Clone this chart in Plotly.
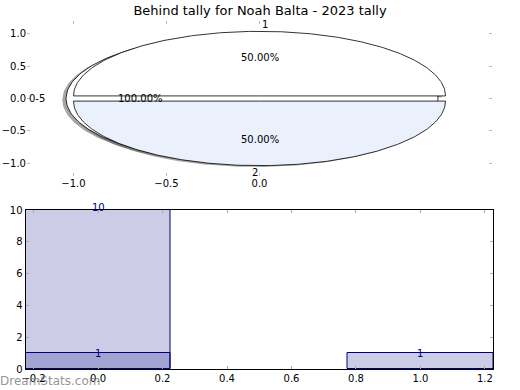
import numpy as np
import plotly.graph_objects as go

# ---------------- data ----------------
title_text = "Behind tally for Noah Balta - 2023 tally"
outer_labels = ["1", "2"]
outer_values = [1, 1]
outer_colors = ["#ffffff", "#eaf0fc"]
inner_labels = ["0-5"]
inner_values = [1]
inner_colors = ["#ffffff"]

bar_a_x = [0]
bar_a_y = [10]
bar_b_x = [0, 1]
bar_b_y = [1, 1]

pie_xticks = [-1.0, -0.5, 0.0]
pie_yticks = [-1.0, -0.5, 0.0, 0.5, 1.0]
bar_xticks = [-0.2, 0.0, 0.2, 0.4, 0.6, 0.8, 1.0, 1.2]
bar_yticks = [0, 2, 4, 6, 8, 10]

# ---------------- style ----------------
FONT = "DejaVu Sans"
EXPLODE = 0.04
SHADOW = (-0.02, -0.02)
LABEL_DIST = 1.1
PCT_DIST = 0.6
W, H = 520, 390

fig = go.Figure()


def wedges(values, explode=EXPLODE, start=0.0):
    """Return polygons for pie wedges computed from values (matplotlib-like)."""
    total = float(sum(values))
    out = []
    t1 = start
    for v in values:
        frac = v / total
        t2 = t1 + 360.0 * frac
        mid = np.deg2rad((t1 + t2) / 2.0)
        cx, cy = explode * np.cos(mid), explode * np.sin(mid)
        th = np.deg2rad(np.linspace(t1, t2, 240))
        xs = cx + np.cos(th)
        ys = cy + np.sin(th)
        if frac < 0.9999:
            xs = np.concatenate([[cx], xs, [cx]])
            ys = np.concatenate([[cy], ys, [cy]])
        out.append(dict(x=xs, y=ys, cx=cx, cy=cy, mid=mid, frac=frac))
        t1 = t2
    return out


inner = wedges(inner_values)
outer = wedges(outer_values)

# shadows first (below all wedges)
for w in inner + outer:
    fig.add_trace(go.Scatter(x=w["x"] + SHADOW[0], y=w["y"] + SHADOW[1], mode="lines",
                             fill="toself", fillcolor="rgba(77,77,77,0.5)",
                             line=dict(width=0), hoverinfo="skip", showlegend=False,
                             xaxis="x", yaxis="y"))
for w, c in zip(inner, inner_colors):
    fig.add_trace(go.Scatter(x=w["x"], y=w["y"], mode="lines", fill="toself", fillcolor=c,
                             line=dict(color="black", width=0.8), hoverinfo="skip",
                             showlegend=False, xaxis="x", yaxis="y"))
for w, c in zip(outer, outer_colors):
    fig.add_trace(go.Scatter(x=w["x"], y=w["y"], mode="lines", fill="toself", fillcolor=c,
                             line=dict(color="black", width=0.8), hoverinfo="skip",
                             showlegend=False, xaxis="x", yaxis="y"))

annotations = []
for ws, labels in ((inner, inner_labels), (outer, outer_labels)):
    for w, lab in zip(ws, labels):
        lx = w["cx"] + LABEL_DIST * np.cos(w["mid"])
        ly = w["cy"] + LABEL_DIST * np.sin(w["mid"])
        annotations.append(dict(x=lx, y=ly, xref="x", yref="y", text=lab, showarrow=False,
                                xanchor="left" if lx > 0 else "right", yanchor="middle",
                                font=dict(family=FONT, size=10, color="black")))
        px = w["cx"] + PCT_DIST * np.cos(w["mid"])
        py = w["cy"] + PCT_DIST * np.sin(w["mid"])
        annotations.append(dict(x=px, y=py, xref="x", yref="y", text="%.2f%%" % (w["frac"] * 100),
                                showarrow=False, xanchor="center", yanchor="middle",
                                font=dict(family=FONT, size=10, color="black")))

# ---------------- bars ----------------
BAR_FILL = "rgba(0,0,128,0.2)"
for bx, by in ((bar_a_x, bar_a_y), (bar_b_x, bar_b_y)):
    fig.add_trace(go.Bar(x=bx, y=by, width=0.45, marker=dict(color=BAR_FILL,
                         line=dict(color="navy", width=1)), showlegend=False,
                         xaxis="x2", yaxis="y2", hoverinfo="skip"))
    for xv, yv in zip(bx, by):
        annotations.append(dict(x=xv, y=yv, xref="x2", yref="y2", text=str(yv), showarrow=False,
                                xanchor="center", yanchor="middle", yshift=3 if yv >= 10 else 0,
                                font=dict(family=FONT, size=10, color="navy")))

annotations.append(dict(x=-2 / W, y=1 - 381 / H, xref="paper", yref="paper", text="DreamStats.com",
                        showarrow=False, xanchor="left", yanchor="middle",
                        font=dict(family=FONT, size=12, color="rgba(120,120,120,0.8)")))

tick_font = dict(family=FONT, size=10, color="black")
fig.update_layout(
    width=W, height=H, margin=dict(l=0, r=0, t=0, b=0, autoexpand=False),
    paper_bgcolor="white", plot_bgcolor="white",
    barmode="overlay", bargap=0,
    title=dict(text=title_text, x=0.5, xanchor="center", y=1 - 10 / H, yanchor="middle",
               font=dict(family=FONT, size=13, color="black"), automargin=False),
    xaxis=dict(domain=[27 / W, 492 / W], range=[-1.25, 1.25], tickvals=pie_xticks,
               tickformat=".1f", showgrid=False, zeroline=False, showline=False,
               ticks="inside", ticklen=3, tickcolor="#bbbbbb", mirror="ticks",
               tickfont=tick_font, anchor="y", automargin=False),
    yaxis=dict(domain=[1 - 176 / H, 1 - 21 / H], range=[-1.2, 1.2], tickvals=pie_yticks,
               tickformat=".1f", showgrid=False, zeroline=False, showline=False,
               ticks="inside", ticklen=3, tickcolor="#bbbbbb", mirror="ticks",
               tickfont=tick_font, anchor="x", automargin=False),
    xaxis2=dict(domain=[25.5 / W, 493 / W], range=[-0.225, 1.225], tickvals=bar_xticks,
                tickformat=".1f", showgrid=False, zeroline=False, showline=True,
                linecolor="black", linewidth=1, mirror="ticks",
                ticks="inside", ticklen=3, tickcolor="#aaaaaa", tickfont=tick_font,
                anchor="y2", automargin=False),
    yaxis2=dict(domain=[1 - 369 / H, 1 - 210 / H], range=[0, 10], tickvals=bar_yticks,
                showgrid=False, zeroline=False, showline=True,
                linecolor="black", linewidth=1, mirror="ticks",
                ticks="inside", ticklen=3, tickcolor="#aaaaaa", tickfont=tick_font,
                anchor="x2", automargin=False),
    annotations=annotations,
)

fig.write_html("out.html", config={"displayModeBar": False},
               post_script="document.body.style.margin='0';document.body.style.padding='0';")
